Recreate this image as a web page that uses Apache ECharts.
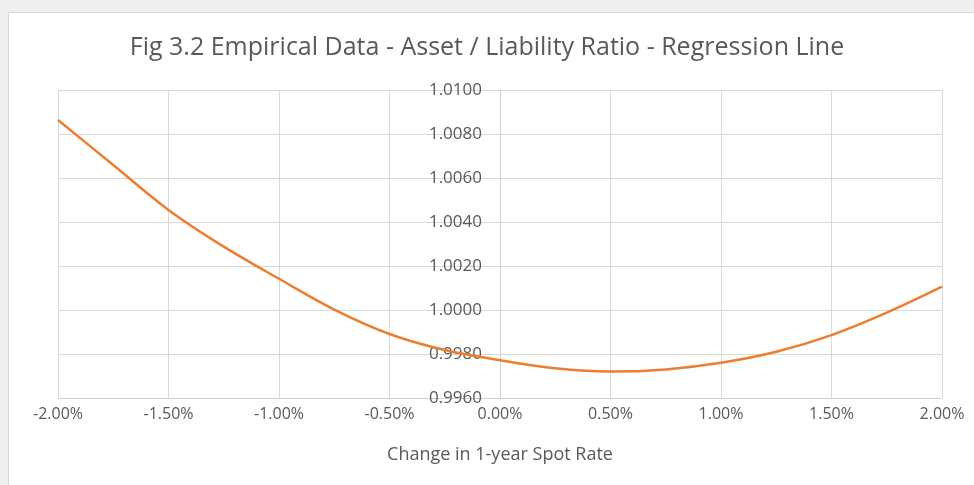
<!DOCTYPE html>
<html>
<head>
<meta charset="utf-8">
<script src="https://cdn.jsdelivr.net/npm/echarts@6/dist/echarts.min.js"></script>
<style>
  html, body { margin: 0; padding: 0; background: #efefef; }
  #box { position: absolute; left: 8px; top: 12px; width: 980px; height: 490px; background: #ffffff; border: 1px solid #d6d6d6; box-sizing: border-box; }
  #chart { position: absolute; left: 0; top: 0; width: 974px; height: 485px; }
</style>
</head>
<body>
<div id="box"></div>
<div id="chart"></div>
<script>
// Change in 1-year spot rate (%)
const rateChange = [-2.00, -1.75, -1.50, -1.25, -1.00, -0.75, -0.50, -0.25, 0.00, 0.25, 0.50, 0.75, 1.00, 1.25, 1.50, 1.75, 2.00];
// Asset / Liability ratio (regression line)
const ratio = [1.00864, 1.00659, 1.00455, 1.00288, 1.00142, 1.00002, 0.99891, 0.99818, 0.99772, 0.99735, 0.99720, 0.99730, 0.99760, 0.99810, 0.99886, 0.99988, 1.00106];
const titleText = 'Fig 3.2 Empirical Data - Asset / Liability Ratio - Regression Line';
const xAxisName = 'Change in 1-year Spot Rate';

const chart = echarts.init(document.getElementById('chart'), null, { renderer: 'canvas' });
const font = '"Open Sans", "Noto Sans", sans-serif';
const gridLeft = 58, gridRight = 32;
const plotWidth = 974 - gridLeft - gridRight;
// put the vertical axis where x = 0 (middle of the -2..2 range)
const yAxisOffset = -plotWidth * (0 - (-2)) / 4;
chart.setOption({
  backgroundColor: 'transparent',
  animation: false,
  title: {
    text: titleText,
    left: 'center',
    top: 35,
    padding: 0,
    textStyle: { fontFamily: font, fontSize: 25, fontWeight: 'normal', color: '#595959' }
  },
  grid: { left: gridLeft, right: gridRight, top: 90, bottom: 87, containLabel: false, outerBoundsMode: 'none' },
  xAxis: {
    type: 'value',
    min: -2, max: 2, interval: 0.5,
    name: xAxisName,
    nameLocation: 'middle',
    nameGap: 48,
    nameTextStyle: { fontFamily: font, fontSize: 18, color: '#595959' },
    axisLine: { show: true, onZero: false, lineStyle: { color: '#cfcfcf', width: 1 } },
    axisTick: { show: false },
    axisLabel: { fontFamily: font, fontSize: 16, color: '#595959', margin: 8,
      formatter: v => v.toFixed(2) + '%' },
    splitLine: { show: true, lineStyle: { color: '#d9d9d9', width: 1 } }
  },
  yAxis: {
    type: 'value',
    min: 0.996, max: 1.01, interval: 0.002,
    offset: yAxisOffset,
    axisLine: { show: true, onZero: false, lineStyle: { color: '#d0d0d0', width: 1 } },
    axisTick: { show: false },
    axisLabel: { fontFamily: font, fontSize: 17, color: '#595959', margin: 18,
      formatter: v => v.toFixed(4) },
    splitLine: { show: true, lineStyle: { color: '#d9d9d9', width: 1 } }
  },
  series: [{
    type: 'line',
    data: rateChange.map((x, i) => [x, ratio[i]]),
    smooth: 0.35,
    symbol: 'none',
    lineStyle: { color: '#ED7D31', width: 2.5 },
    z: 5
  }]
});
</script>
</body>
</html>
